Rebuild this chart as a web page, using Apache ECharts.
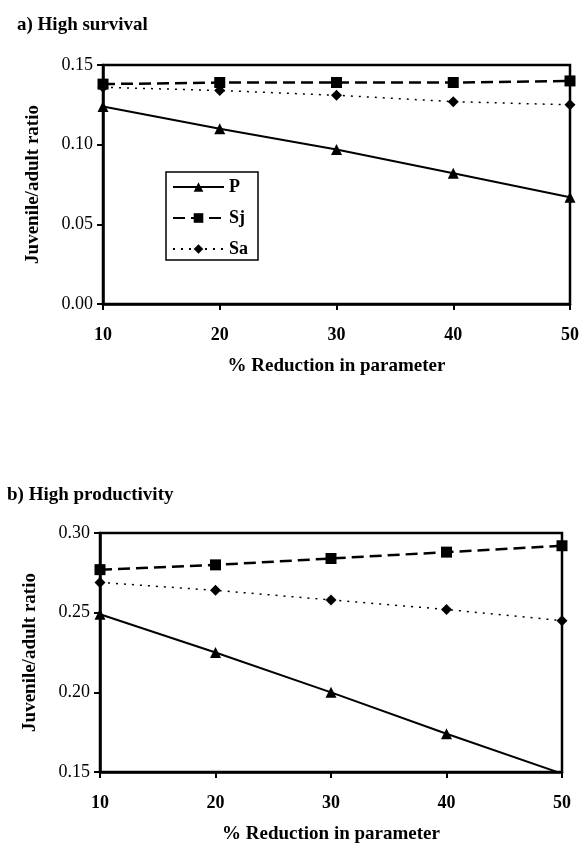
<!DOCTYPE html>
<html lang="en">
<head>
    <meta charset="UTF-8">
    <title>Juvenile/adult ratio</title>
    <script src="https://cdn.jsdelivr.net/npm/echarts@6/dist/echarts.min.js"></script>
</head>
<style>
    *{
        margin: 0;
        padding: 0;
    }
    html,body{
        width: 100%;
        height: 100%;
        overflow: hidden;
        background: #fff;
    }
    .container{
        width: 582px;
        height: 846px;
    }
</style>
<body>
<div class="container"></div>
<script>
    let reduction = [10, 20, 30, 40, 50];
    // a) High survival
    let survP  = [0.124, 0.110, 0.097, 0.082, 0.067];
    let survSj = [0.138, 0.139, 0.139, 0.139, 0.140];
    let survSa = [0.136, 0.134, 0.131, 0.127, 0.125];
    // b) High productivity
    let prodP  = [0.249, 0.225, 0.200, 0.174, 0.149];
    let prodSj = [0.277, 0.280, 0.284, 0.288, 0.292];
    let prodSa = [0.269, 0.264, 0.258, 0.252, 0.245];

    let font = 'Liberation Serif';
    let pairs = arr => arr.map((v, i) => [reduction[i], v]);

    function xAxisFor(gridIndex) {
        return {
            type: 'value', gridIndex, min: 10, max: 50, interval: 10,
            name: '% Reduction in parameter', nameLocation: 'middle', nameGap: 53,
            nameTextStyle: {fontFamily: font, fontWeight: 'bold', fontSize: 19, color: '#000'},
            axisLine: {lineStyle: {color: '#000', width: 2.5}},
            axisTick: {show: true, length: 6, lineStyle: {color: '#000', width: 2}},
            axisLabel: {fontFamily: font, fontWeight: 'bold', fontSize: 18, color: '#000', margin: 22},
            splitLine: {show: false}
        };
    }
    function yAxisFor(gridIndex, min, max) {
        return {
            type: 'value', gridIndex, min, max, interval: 0.05,
            name: 'Juvenile/adult ratio', nameLocation: 'middle', nameGap: 60,
            nameTextStyle: {fontFamily: font, fontWeight: 'bold', fontSize: 19, color: '#000'},
            axisLine: {show: true, lineStyle: {color: '#000', width: 2.5}},
            axisTick: {show: true, length: 6, lineStyle: {color: '#000', width: 2}},
            axisLabel: {fontFamily: font, fontSize: 18, color: '#000', margin: 10,
                formatter: v => v.toFixed(2)},
            splitLine: {show: false}
        };
    }
    function lineSeries(name, data, gi, symbol, type, width, size) {
        return {
            name, type: 'line', xAxisIndex: gi, yAxisIndex: gi, data: pairs(data),
            symbol, symbolSize: size, showSymbol: true,
            itemStyle: {color: '#000'},
            lineStyle: {color: '#000', width, type},
            z: 5
        };
    }

    let chart = echarts.init(document.querySelector('.container'));
    chart.setOption({
        backgroundColor: '#fff',
        animation: false,
        title: [
            {text: 'a) High survival', left: 12, top: 11,
                textStyle: {fontFamily: font, fontWeight: 'bold', fontSize: 19, color: '#000'}},
            {text: 'b) High productivity', left: 2, top: 481,
                textStyle: {fontFamily: font, fontWeight: 'bold', fontSize: 19, color: '#000'}}
        ],
        grid: [
            {left: 103, width: 467, top: 65, height: 239, show: true, borderColor: '#000', borderWidth: 2.5},
            {left: 100, width: 462, top: 533, height: 239, show: true, borderColor: '#000', borderWidth: 2.5}
        ],
        legend: {
            data: ['P', 'Sj', 'Sa'],
            orient: 'vertical', left: 166, top: 172,
            padding: [6, 10, 2, 6], itemGap: 13, itemWidth: 51, itemHeight: 12,
            borderColor: '#000', borderWidth: 1.5, backgroundColor: '#fff',
            textStyle: {fontFamily: font, fontWeight: 'bold', fontSize: 18, color: '#000'}
        },
        xAxis: [xAxisFor(0), xAxisFor(1)],
        yAxis: [yAxisFor(0, 0, 0.15), yAxisFor(1, 0.15, 0.30)],
        series: [
            lineSeries('P', survP, 0, 'triangle', 'solid', 2, 11),
            lineSeries('Sj', survSj, 0, 'rect', [12, 6], 2.5, 11),
            lineSeries('Sa', survSa, 0, 'diamond', [2, 6], 1.5, 11),
            lineSeries('P', prodP, 1, 'triangle', 'solid', 2, 11),
            lineSeries('Sj', prodSj, 1, 'rect', [12, 6], 2.5, 11),
            lineSeries('Sa', prodSa, 1, 'diamond', [2, 6], 1.5, 11)
        ]
    });
</script>
</body>
</html>
